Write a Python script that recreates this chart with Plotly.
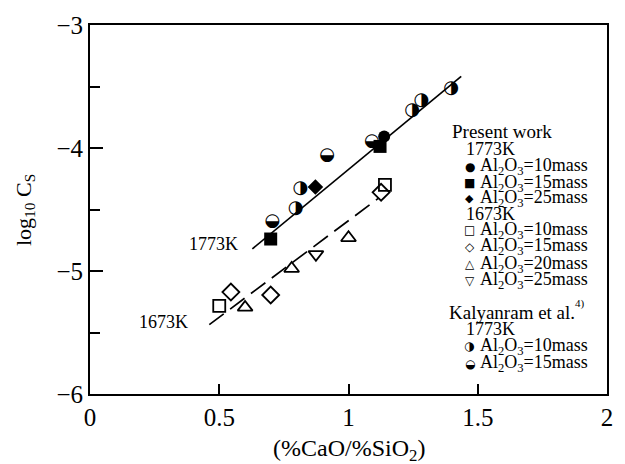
import plotly.graph_objects as go

# ---- data ----
# Present work, 1773K
pw1773_10_x = [1.138]
pw1773_10_y = [-3.907]
pw1773_15_x = [0.699, 1.122]
pw1773_15_y = [-4.74, -3.987]
pw1773_25_x = [0.872]
pw1773_25_y = [-4.317]
# Present work, 1673K
pw1673_10_x = [0.500, 1.141]
pw1673_10_y = [-5.283, -4.300]
pw1673_15_x = [0.545, 0.699, 1.126]
pw1673_15_y = [-5.171, -5.195, -4.360]
pw1673_20_x = [0.600, 0.780, 1.000]
pw1673_20_y = [-5.296, -4.980, -4.730]
pw1673_25_x = [0.874]
pw1673_25_y = [-4.865]
# Kalyanram et al., 1773K
ka10_x = [0.795, 0.814, 1.246, 1.282, 1.397]
ka10_y = [-4.490, -4.330, -3.695, -3.616, -3.516]
ka15_x = [0.705, 0.917, 1.090]
ka15_y = [-4.595, -4.060, -3.947]
# regression lines
line1773_x = [0.628, 1.436]
line1773_y = [-4.820, -3.418]
line1673_x = [0.4615, 1.115]
line1673_y = [-5.436, -4.410]

x_ticks = [0, 0.5, 1, 1.5, 2]
x_ticklabels = ["0", "0.5", "1", "1.5", "2"]
y_ticks = [-6, -5, -4, -3]
y_minor = [-5.5, -4.5, -3.5]

SERIF = "Liberation Serif, Times New Roman, serif"
BLK = "black"

fig = go.Figure()

fig.add_trace(go.Scatter(x=line1773_x, y=line1773_y, mode="lines",
                         line=dict(color=BLK, width=1.7)))
fig.add_trace(go.Scatter(x=line1673_x, y=line1673_y, mode="lines",
                         line=dict(color=BLK, width=1.7, dash="18px,8px")))

def mk(x, y, symbol, size, lw=1.8):
    fig.add_trace(go.Scatter(x=x, y=y, mode="markers",
                             marker=dict(symbol=symbol, size=size, color=BLK,
                                         line=dict(color=BLK, width=lw))))

mk(pw1773_10_x, pw1773_10_y, "circle", 12, 0)
mk(pw1773_15_x, pw1773_15_y, "square", 13, 0)
mk(pw1773_25_x, pw1773_25_y, "diamond", 12, 0)
mk(pw1673_10_x, pw1673_10_y, "square-open", 12)
mk(pw1673_15_x, pw1673_15_y, "diamond-open", 13)
mk(pw1673_20_x, pw1673_20_y, "triangle-up-open", 13)
mk(pw1673_25_x, pw1673_25_y, "triangle-down-open", 13)

def glyph(x, y, ch, size=18):
    fig.add_trace(go.Scatter(x=x, y=y, mode="text", text=[ch] * len(x),
                             textposition="middle center",
                             textfont=dict(family="DejaVu Sans", size=size, color=BLK)))

glyph(ka10_x, ka10_y, "\u25D1")
glyph(ka15_x, ka15_y, "\u25D2")

ann = []
def px2paper(px, py):
    return (px - 90) / 520.0, (394 - py) / 378.3

def text_at(px, py, txt, size=18, anchor="left", family=SERIF):
    xp, yp = px2paper(px, py)
    ann.append(dict(x=xp, y=yp, xref="paper", yref="paper", text=txt, showarrow=False,
                    xanchor=anchor, yanchor="middle",
                    font=dict(family=family, size=size, color=BLK)))

AL = "Al<sub>2</sub>O<sub>3</sub>="
# legend
text_at(452, 125, "Present work", 19)
text_at(466, 143, "1773K")
rows = [(161, "\u25CF", 12, "10mass"), (178, "\u25A0", 12, "15mass"), (194, "\u25C6", 11, "25mass")]
for yy, g, gs, t in rows:
    text_at(472, yy, g, gs, "center", "DejaVu Sans")
    text_at(480, yy, AL + t)
text_at(466, 209, "1673K")
rows = [(226, "\u25A1", 12, "10mass"), (243, "\u25C7", 12, "15mass"),
        (261, "\u25B3", 12, "20mass"), (278, "\u25BD", 12, "25mass")]
for yy, g, gs, t in rows:
    text_at(472, yy, g, gs, "center", "DejaVu Sans")
    text_at(480, yy, AL + t)
text_at(449, 310, "Kalyanram et al.", 19)
text_at(576, 301, "4)", 11)
text_at(466, 327, "1773K")
rows = [(345, "\u25D1", 12, "10mass"), (363, "\u25D2", 12, "15mass")]
for yy, g, gs, t in rows:
    text_at(472, yy, g, gs, "center", "DejaVu Sans")
    text_at(480, yy, AL + t)

# line labels
text_at(241, 240, "1773K", 18, "right")
text_at(191, 320, "1673K", 18, "right")

# axis titles
text_at(350, 451, "(%CaO/%SiO<sub>2</sub>)", 24, "center")
xp, yp = px2paper(24, 205)
ann.append(dict(x=xp, y=yp, xref="paper", yref="paper", text="log<sub>10</sub> C<sub>S</sub>",
                showarrow=False, textangle=-90, xanchor="center", yanchor="middle",
                font=dict(family=SERIF, size=22, color=BLK)))

fig.update_layout(
    width=625, height=464, margin=dict(l=90, r=15, t=16, b=70),
    paper_bgcolor="white", plot_bgcolor="white", showlegend=False,
    annotations=ann,
    xaxis=dict(range=[0, 2], tickvals=x_ticks, ticktext=x_ticklabels, ticks="inside",
               ticklen=10, tickwidth=1.5, tickcolor=BLK, showline=True, linewidth=1.8,
               linecolor=BLK, mirror=True, showgrid=False, zeroline=False,
               tickfont=dict(family=SERIF, size=25, color=BLK)),
    yaxis=dict(range=[-6, -3], tickvals=y_ticks, ticks="inside", ticklen=13, tickwidth=1.5,
               tickcolor=BLK, showline=True, linewidth=1.8, linecolor=BLK, mirror=True,
               showgrid=False, zeroline=False,
               minor=dict(tickvals=y_minor, ticks="inside", ticklen=10, tickwidth=1.5,
                          tickcolor=BLK, showgrid=False),
               tickfont=dict(family=SERIF, size=25, color=BLK)),
)

fig.write_html("out.html")
